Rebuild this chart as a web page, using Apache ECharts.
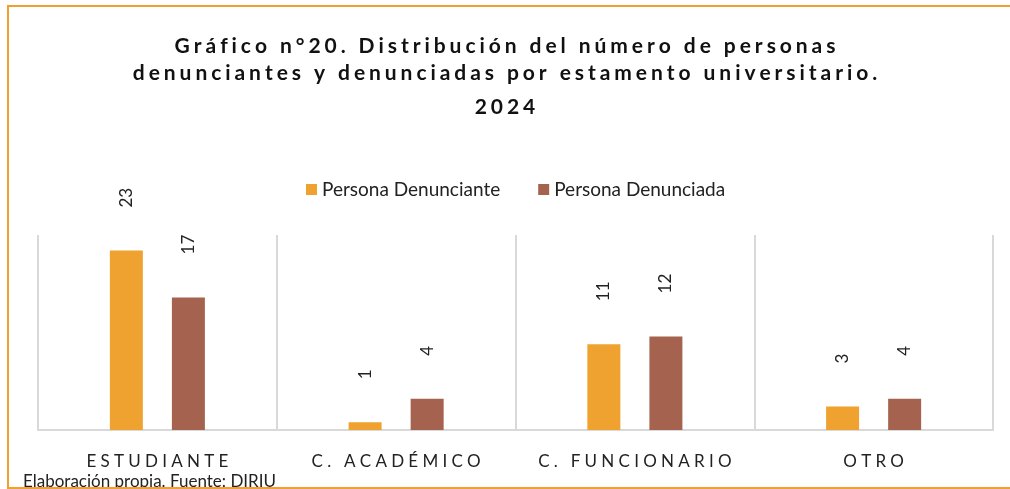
<!DOCTYPE html>
<html>
<head>
<meta charset="utf-8">
<script src="https://cdn.jsdelivr.net/npm/echarts@6/dist/echarts.min.js"></script>
<style>
html,body{margin:0;padding:0;background:#fff;}
#chart{width:1010px;height:489px;}
</style>
</head>
<body>
<div id="chart"></div>
<script>
var titleLines = ['Gráfico n°20. Distribución del número de personas', 'denunciantes y denunciadas por estamento universitario.'];
var titleYear = '2024';
var categories = ['ESTUDIANTE', 'C. ACADÉMICO', 'C. FUNCIONARIO', 'OTRO'];
var seriesNames = ['Persona Denunciante', 'Persona Denunciada'];
var denunciante = [23, 1, 11, 3];
var denunciada = [17, 4, 12, 4];
var footer = 'Elaboración propia. Fuente: DIRIU';

function spaced(s, sep) { return Array.from(s).join(sep); }

var chart = echarts.init(document.getElementById('chart'));
var labelStyle = {
  show: true, position: 'top', distance: 43, rotate: 90,
  align: 'left', verticalAlign: 'middle',
  color: '#222', fontSize: 17, fontFamily: 'Lato'
};
chart.setOption({
  animation: false,
  backgroundColor: '#fff',
  title: [{
    text: titleLines.map(function (l) { return spaced(l, '\u2009\u200A'); }).join('\n'),
    left: 'center', top: 28,
    textStyle: { fontFamily: 'Lato', fontWeight: 'bold', fontSize: 21, lineHeight: 27, color: '#111' }
  }, {
    text: spaced(titleYear, '\u2009\u200A'),
    left: 'center', top: 92,
    textStyle: { fontFamily: 'Lato', fontWeight: 'bold', fontSize: 21, color: '#111' }
  }],
  legend: {
    left: 301, top: 175,
    itemWidth: 11, itemHeight: 11, itemGap: 38,
    icon: 'rect',
    textStyle: { fontFamily: 'Lato', fontSize: 19, color: '#222' },
    data: seriesNames
  },
  grid: { left: 38, right: 17, top: 235, bottom: 59, containLabel: false },
  xAxis: {
    type: 'category', data: categories,
    axisLine: { lineStyle: { color: '#d9d9d9', width: 2 } },
    axisTick: { show: false, interval: 0 },
    splitLine: { show: true, interval: 0, lineStyle: { color: '#d9d9d9', width: 2 } },
    axisLabel: {
      interval: 0, margin: 23, color: '#222', fontFamily: 'Lato', fontSize: 17,
      formatter: function (v) { return spaced(v, '\u2009\u2009'); }
    }
  },
  yAxis: { type: 'value', min: 0, max: 25, show: false, splitLine: { show: false } },
  series: [{
    name: seriesNames[0], type: 'bar', data: denunciante,
    barWidth: 33, barGap: '88%',
    itemStyle: { color: '#EFA22F' }, label: labelStyle
  }, {
    name: seriesNames[1], type: 'bar', data: denunciada,
    barWidth: 33, barGap: '88%',
    itemStyle: { color: '#A5634F' }, label: labelStyle
  }],
  graphic: [{
    type: 'text', left: 23, top: 473, z: 1,
    style: { text: footer, fontFamily: 'Lato', fontSize: 17, fill: '#222' }
  }, {
    type: 'rect', z: 10,
    shape: { x: 8, y: 6, width: 1010, height: 482 },
    style: { fill: 'none', stroke: '#F0A030', lineWidth: 2 }
  }]
});
</script>
</body>
</html>
